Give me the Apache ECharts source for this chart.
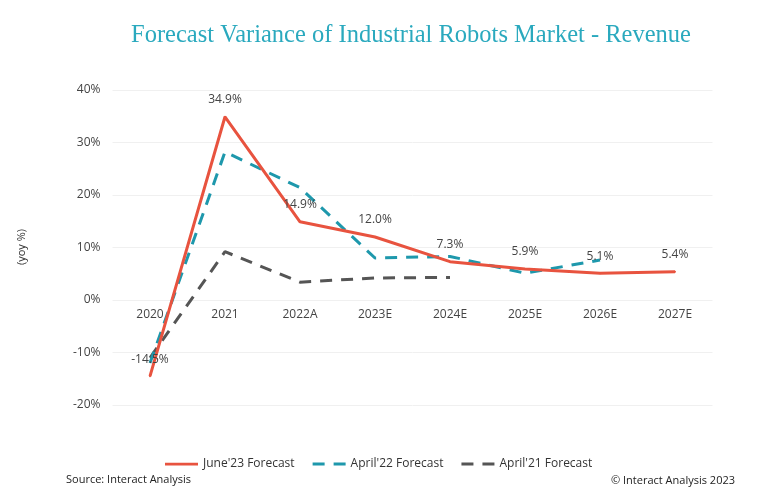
<!DOCTYPE html>
<html><head><meta charset="utf-8">
<script src="https://cdn.jsdelivr.net/npm/echarts@6/dist/echarts.min.js"></script>
<style>html,body{margin:0;padding:0;background:#fff}#c{width:770px;height:500px}</style>
</head><body><div id="c"></div>
<script>
const categories = ['2020','2021','2022A','2023E','2024E','2025E','2026E','2027E'];
const june23 = [-14.5, 34.9, 14.9, 12.0, 7.3, 5.9, 5.1, 5.4];
const april22 = [-12.0, 28.2, 21.4, 8.0, 8.3, 5.1, 7.6, null];
const april21 = [-11.0, 9.2, 3.4, 4.2, 4.3, null, null, null];
const yTicks = [-20, -10, 0, 10, 20, 30, 40];

const chart = echarts.init(document.getElementById('c'));
const font = 'Open Sans';
const solidIcon = 'path://M0,0 L36,0 L36,3 L0,3 Z';
const dashIcon = 'path://M0,0 L12,0 L12,3 L0,3 Z M21,0 L33,0 L33,3 L21,3 Z';
chart.setOption({
  animation: false,
  title: {
    text: 'Forecast Variance of Industrial Robots Market - Revenue',
    left: 406, top: 18, textAlign: 'center',
    textStyle: {fontFamily: 'Liberation Serif', fontSize: 24.5, fontWeight: 'normal', color: '#2aa9be'}
  },
  grid: {left: 112.5, right: 57.5, top: 90, bottom: 95},
  legend: {
    top: 453, left: 160, itemGap: 18, itemWidth: 33, itemHeight: 3,
    textStyle: {fontFamily: font, fontSize: 12, color: '#333'},
    data: [
      {name: "June'23 Forecast", icon: solidIcon, itemStyle: {color: '#e8533f'}},
      {name: "April'22 Forecast", icon: dashIcon, itemStyle: {color: '#1e98ac'}},
      {name: "April'21 Forecast", icon: dashIcon, itemStyle: {color: '#555'}}
    ]
  },
  graphic: [
    {type: 'text', left: 66, top: 474, style: {text: 'Source: Interact Analysis', font: '11px "Open Sans"', fill: '#222'}},
    {type: 'text', right: 35, top: 475, style: {text: '© Interact Analysis 2023', font: '11px "Open Sans"', fill: '#222'}},
    {type: 'text', x: 22, y: 247, rotation: Math.PI/2, style: {text: '(yoy %)', font: '11px "Open Sans"', fill: '#333', align: 'center', verticalAlign: 'middle'}}
  ],
  xAxis: {
    type: 'category', data: categories, boundaryGap: true, offset: -105,
    axisLine: {show: false, onZero: false}, axisTick: {show: false},
    axisLabel: {fontFamily: font, fontSize: 12, color: '#444', margin: 9}
  },
  yAxis: {
    type: 'value', min: -20, max: 40, interval: 10,
    axisLabel: {fontFamily: font, fontSize: 12, color: '#444', margin: 12, formatter: v => yTicks.includes(v) ? v + '%' : ''},
    splitLine: {lineStyle: {color: '#f0f0f0', width: 1}},
    axisLine: {show: false}, axisTick: {show: false}
  },
  series: [
    {
      name: "April'21 Forecast", type: 'line', data: april21, symbol: 'none', z: 2,
      lineStyle: {color: '#555', width: 3, type: [12, 9]}, itemStyle: {color: '#555'}
    },
    {
      name: "April'22 Forecast", type: 'line', data: april22, symbol: 'none', z: 3,
      lineStyle: {color: '#1e98ac', width: 3, type: [12, 9]}, itemStyle: {color: '#1e98ac'}
    },
    {
      name: "June'23 Forecast", type: 'line', data: june23, symbol: 'circle', symbolSize: 2, showSymbol: true, z: 4,
      lineStyle: {color: '#e8533f', width: 3}, itemStyle: {color: '#e8533f'},
      label: {show: true, position: 'top', distance: 10, fontFamily: font, fontSize: 12, color: '#444', formatter: p => p.value.toFixed(1) + '%'}
    }
  ]
});
</script></body></html>
